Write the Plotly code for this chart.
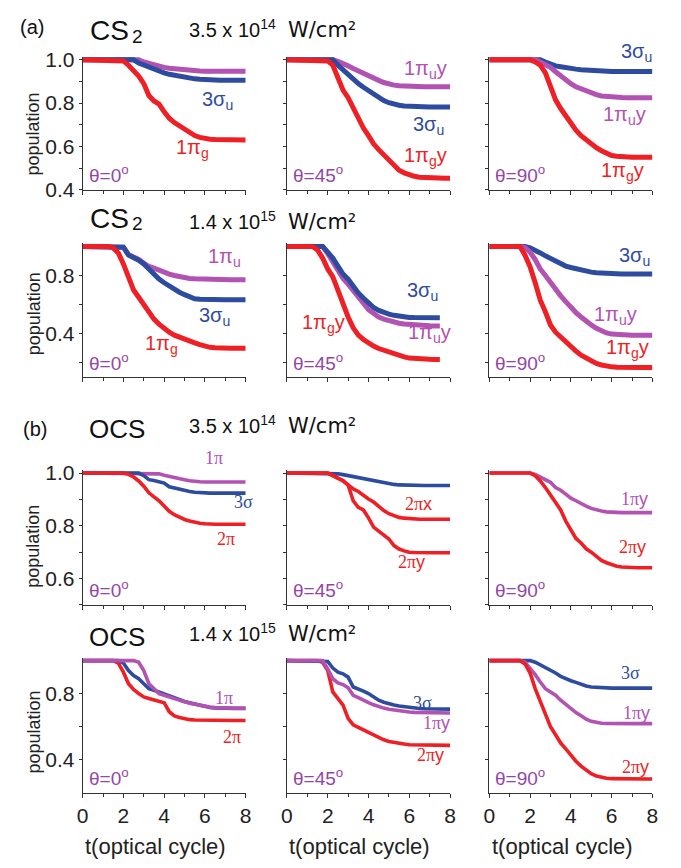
import plotly.graph_objects as go

# ---------------- data ----------------
T = [0, 0.25, 0.5, 0.75, 1, 1.25, 1.5, 1.75, 2, 2.25, 2.5, 2.75, 3, 3.25, 3.5, 3.75, 4,
     4.25, 4.5, 4.75, 5, 5.25, 5.5, 5.75, 6, 6.25, 6.5, 6.75, 7, 7.25, 7.5, 7.75, 8]

# (a) CS2, 3.5e14 W/cm2
cs2_lo_0_pig = [1, 1, 1, 1, 1, 1, 1, 1, 0.995, 0.975, 0.95, 0.925, 0.89, 0.835, 0.81, 0.795, 0.76, 0.73, 0.71, 0.695, 0.675, 0.66, 0.65, 0.642, 0.636, 0.633, 0.632, 0.631, 0.63, 0.63, 0.63, 0.63, 0.63]
cs2_lo_0_sig = [1, 1, 1, 1, 1, 1, 1, 1, 1, 1, 1, 0.985, 0.975, 0.965, 0.955, 0.948, 0.94, 0.933, 0.928, 0.922, 0.918, 0.915, 0.912, 0.91, 0.908, 0.907, 0.907, 0.906, 0.906, 0.906, 0.906, 0.906, 0.906]
cs2_lo_0_piu = [1, 1, 1, 1, 1, 1, 1, 1, 1, 1, 1, 1, 0.99, 0.983, 0.975, 0.97, 0.965, 0.961, 0.958, 0.955, 0.952, 0.95, 0.949, 0.948, 0.947, 0.947, 0.947, 0.947, 0.947, 0.947, 0.947, 0.947, 0.947]

cs2_lo_45_pig = [1, 1, 1, 1, 1, 1, 1, 1, 0.995, 0.975, 0.915, 0.86, 0.825, 0.775, 0.73, 0.685, 0.65, 0.612, 0.585, 0.56, 0.535, 0.508, 0.49, 0.478, 0.468, 0.462, 0.458, 0.456, 0.454, 0.453, 0.453, 0.453, 0.453]
cs2_lo_45_sig = [1, 1, 1, 1, 1, 1, 1, 1, 1, 1, 0.975, 0.952, 0.93, 0.905, 0.89, 0.873, 0.858, 0.842, 0.825, 0.812, 0.802, 0.795, 0.79, 0.787, 0.785, 0.784, 0.783, 0.782, 0.782, 0.782, 0.782, 0.782, 0.782]
cs2_lo_45_piu = [1, 1, 1, 1, 1, 1, 1, 1, 1, 1, 0.993, 0.985, 0.972, 0.96, 0.948, 0.938, 0.925, 0.915, 0.905, 0.895, 0.887, 0.883, 0.88, 0.878, 0.877, 0.876, 0.875, 0.875, 0.875, 0.875, 0.875, 0.875, 0.875]

cs2_lo_90_sig = [1, 1, 1, 1, 1, 1, 1, 1, 1, 1, 1, 0.99, 0.978, 0.972, 0.968, 0.963, 0.96, 0.957, 0.954, 0.952, 0.95, 0.948, 0.947, 0.946, 0.946, 0.946, 0.946, 0.946, 0.946, 0.946, 0.946, 0.946, 0.946]
cs2_lo_90_piu = [1, 1, 1, 1, 1, 1, 1, 1, 1, 1, 0.99, 0.98, 0.965, 0.945, 0.925, 0.905, 0.89, 0.875, 0.865, 0.855, 0.846, 0.839, 0.833, 0.83, 0.828, 0.827, 0.826, 0.825, 0.825, 0.825, 0.825, 0.825, 0.825]
cs2_lo_90_pig = [1, 1, 1, 1, 1, 1, 1, 1, 1, 0.99, 0.975, 0.94, 0.88, 0.815, 0.775, 0.74, 0.70, 0.675, 0.65, 0.63, 0.61, 0.594, 0.58, 0.567, 0.558, 0.555, 0.552, 0.551, 0.55, 0.55, 0.55, 0.55, 0.55]

# (a) CS2, 1.4e15 W/cm2
cs2_hi_0_pig = [1, 1, 1, 1, 1, 1, 0.99, 0.955, 0.88, 0.8, 0.7, 0.65, 0.6, 0.545, 0.5, 0.465, 0.435, 0.41, 0.39, 0.375, 0.36, 0.348, 0.337, 0.325, 0.312, 0.306, 0.303, 0.3, 0.3, 0.3, 0.3, 0.3, 0.3]
cs2_hi_0_sig = [1, 1, 1, 1, 1, 1, 1, 1, 0.995, 0.94, 0.925, 0.905, 0.88, 0.845, 0.8, 0.775, 0.75, 0.725, 0.705, 0.685, 0.668, 0.652, 0.64, 0.636, 0.634, 0.633, 0.633, 0.633, 0.633, 0.633, 0.633, 0.633, 0.633]
cs2_hi_0_piu = [1, 1, 1, 1, 1, 1, 1, 1, 0.995, 0.945, 0.93, 0.91, 0.885, 0.862, 0.85, 0.835, 0.82, 0.81, 0.8, 0.792, 0.785, 0.78, 0.777, 0.775, 0.773, 0.771, 0.771, 0.771, 0.771, 0.771, 0.771, 0.771, 0.771]

cs2_hi_45_pig = [1, 1, 1, 1, 1, 1, 0.975, 0.92, 0.845, 0.79, 0.7, 0.605, 0.515, 0.44, 0.39, 0.36, 0.335, 0.315, 0.298, 0.285, 0.27, 0.258, 0.248, 0.24, 0.232, 0.228, 0.226, 0.225, 0.224, 0.223, 0.223, None, None]
cs2_hi_45_sig = [1, 1, 1, 1, 1, 1, 1, 1, 0.96, 0.92, 0.865, 0.81, 0.775, 0.725, 0.68, 0.645, 0.61, 0.58, 0.56, 0.545, 0.534, 0.526, 0.52, 0.515, 0.512, 0.511, 0.51, 0.51, 0.51, 0.51, 0.51, None, None]
cs2_hi_45_piu = [1, 1, 1, 1, 1, 1, 1, 1, 0.95, 0.89, 0.84, 0.78, 0.74, 0.7, 0.655, 0.61, 0.565, 0.535, 0.515, 0.5, 0.488, 0.479, 0.472, 0.466, 0.462, 0.459, 0.456, 0.455, 0.454, 0.453, 0.453, None, None]

cs2_hi_90_sig = [1, 1, 1, 1, 1, 1, 1, 1, 0.99, 0.975, 0.955, 0.935, 0.915, 0.895, 0.88, 0.865, 0.855, 0.845, 0.836, 0.829, 0.823, 0.819, 0.816, 0.814, 0.812, 0.811, 0.811, 0.811, 0.811, 0.811, 0.811, 0.811, 0.811]
cs2_hi_90_piu = [1, 1, 1, 1, 1, 1, 1, 0.99, 0.96, 0.91, 0.845, 0.8, 0.75, 0.7, 0.66, 0.62, 0.58, 0.545, 0.515, 0.485, 0.46, 0.437, 0.42, 0.405, 0.397, 0.393, 0.391, 0.39, 0.389, 0.389, 0.389, 0.389, 0.389]
cs2_hi_90_pig = [1, 1, 1, 1, 1, 1, 1, 0.94, 0.86, 0.75, 0.63, 0.55, 0.46, 0.41, 0.375, 0.345, 0.31, 0.28, 0.252, 0.23, 0.21, 0.195, 0.185, 0.177, 0.172, 0.17, 0.168, 0.167, 0.167, 0.167, 0.167, 0.167, 0.167]

# (b) OCS, 3.5e14 W/cm2
ocs_lo_0_1pi = [1, 1, 1, 1, 1, 1, 1, 1, 1, 1, 1, 1, 1, 1, 1, 0.997, 0.992, 0.987, 0.982, 0.978, 0.975, 0.971, 0.968, 0.967, 0.966, 0.966, 0.966, 0.966, 0.966, 0.966, 0.966, 0.966, 0.966]
ocs_lo_0_3sig = [1, 1, 1, 1, 1, 1, 1, 1, 1, 1, 1, 1, 0.99, 0.975, 0.972, 0.968, 0.962, 0.948, 0.943, 0.938, 0.934, 0.93, 0.927, 0.925, 0.924, 0.924, 0.924, 0.924, 0.924, 0.924, 0.924, 0.924, 0.924]
ocs_lo_0_2pi = [1, 1, 1, 1, 1, 1, 1, 1, 1, 0.995, 0.985, 0.97, 0.95, 0.925, 0.91, 0.895, 0.875, 0.855, 0.842, 0.832, 0.824, 0.818, 0.813, 0.81, 0.808, 0.806, 0.806, 0.806, 0.806, 0.806, 0.806, 0.806, 0.806]

ocs_lo_45_3sig = [1, 1, 1, 1, 1, 1, 1, 1, 1, 0.999, 0.997, 0.994, 0.99, 0.988, 0.985, 0.981, 0.977, 0.972, 0.968, 0.964, 0.96, 0.957, 0.955, 0.954, 0.953, 0.953, 0.953, 0.953, 0.953, 0.953, 0.953, 0.953, 0.953]
ocs_lo_45_2pix = [1, 1, 1, 1, 1, 1, 1, 1, 1, 0.99, 0.98, 0.97, 0.955, 0.94, 0.93, 0.915, 0.902, 0.89, 0.872, 0.858, 0.846, 0.838, 0.832, 0.829, 0.827, 0.826, 0.825, 0.825, 0.825, 0.825, 0.825, 0.825, 0.825]
ocs_lo_45_2piy = [1, 1, 1, 1, 1, 1, 1, 1, 1, 0.99, 0.98, 0.972, 0.955, 0.895, 0.87, 0.86, 0.83, 0.795, 0.78, 0.765, 0.75, 0.725, 0.712, 0.705, 0.7, 0.699, 0.698, 0.698, 0.698, 0.698, 0.698, 0.698, 0.698]

ocs_lo_90_1piy = [1, 1, 1, 1, 1, 1, 1, 1, 1, 0.995, 0.985, 0.975, 0.965, 0.945, 0.935, 0.92, 0.905, 0.895, 0.884, 0.875, 0.866, 0.86, 0.856, 0.853, 0.851, 0.85, 0.85, 0.85, 0.85, 0.85, 0.85, 0.85, 0.85]
ocs_lo_90_2piy = [1, 1, 1, 1, 1, 1, 1, 1, 1, 0.99, 0.97, 0.945, 0.915, 0.885, 0.86, 0.818, 0.785, 0.752, 0.735, 0.713, 0.7, 0.685, 0.669, 0.66, 0.652, 0.647, 0.644, 0.642, 0.641, 0.641, 0.641, 0.641, 0.641]

# (b) OCS, 1.4e15 W/cm2
ocs_hi_0_2pi = [1, 1, 1, 1, 1, 1, 1, 0.985, 0.93, 0.86, 0.825, 0.8, 0.78, 0.77, 0.76, 0.755, 0.745, 0.69, 0.665, 0.655, 0.648, 0.642, 0.64, 0.639, 0.638, 0.637, 0.637, 0.637, 0.637, 0.637, 0.637, 0.637, 0.637]
ocs_hi_0_3sig = [1, 1, 1, 1, 1, 1, 1, 1, 0.985, 0.94, 0.91, 0.89, 0.86, 0.83, 0.82, 0.808, 0.798, 0.785, 0.772, 0.762, 0.752, 0.745, 0.737, 0.728, 0.72, 0.716, 0.713, 0.711, 0.71, 0.71, 0.71, 0.71, 0.71]
ocs_hi_0_1pi = [1, 1, 1, 1, 1, 1, 1, 1, 1, 1, 1, 0.99, 0.94, 0.86, 0.83, 0.8, 0.79, 0.78, 0.765, 0.758, 0.75, 0.742, 0.735, 0.728, 0.722, 0.718, 0.715, 0.713, 0.712, 0.712, 0.712, 0.712, 0.712]

ocs_hi_45_3sig = [1, 1, 1, 1, 1, 1, 1, 1, 0.995, 0.955, 0.93, 0.92, 0.9, 0.84, 0.83, 0.815, 0.8, 0.78, 0.76, 0.748, 0.738, 0.731, 0.725, 0.72, 0.715, 0.712, 0.71, 0.708, 0.707, 0.706, 0.706, 0.706, 0.706]
ocs_hi_45_1piy = [1, 1, 1, 1, 1, 1, 1, 1, 0.95, 0.89, 0.865, 0.855, 0.835, 0.79, 0.775, 0.757, 0.745, 0.732, 0.72, 0.712, 0.705, 0.7, 0.695, 0.691, 0.688, 0.686, 0.685, 0.684, 0.684, 0.682, 0.682, 0.682, 0.682]
ocs_hi_45_2piy = [1, 1, 1, 1, 1, 1, 1, 0.99, 0.94, 0.81, 0.77, 0.73, 0.65, 0.61, 0.595, 0.58, 0.565, 0.545, 0.53, 0.52, 0.51, 0.503, 0.498, 0.494, 0.49, 0.489, 0.488, 0.487, 0.487, 0.486, 0.486, 0.486, 0.486]

ocs_hi_90_3sig = [1, 1, 1, 1, 1, 1, 1, 1, 1, 0.99, 0.975, 0.955, 0.94, 0.925, 0.905, 0.89, 0.878, 0.868, 0.855, 0.846, 0.84, 0.837, 0.835, 0.834, 0.833, 0.833, 0.833, 0.833, 0.833, 0.833, 0.833, 0.833, 0.833]
ocs_hi_90_1piy = [1, 1, 1, 1, 1, 1, 1, 0.99, 0.955, 0.915, 0.87, 0.83, 0.81, 0.79, 0.76, 0.735, 0.705, 0.685, 0.665, 0.645, 0.632, 0.624, 0.62, 0.619, 0.618, 0.618, 0.618, 0.618, 0.618, 0.618, 0.618, 0.618, 0.618]
ocs_hi_90_2piy = [1, 1, 1, 1, 1, 1, 1, 0.98, 0.925, 0.83, 0.75, 0.67, 0.6, 0.55, 0.5, 0.465, 0.425, 0.39, 0.36, 0.335, 0.314, 0.3, 0.292, 0.287, 0.284, 0.283, 0.282, 0.282, 0.282, 0.282, 0.282, 0.282, 0.282]

X_TICKS = [0, 2, 4, 6, 8]
X_MINOR = [1, 3, 5, 7]
X_TITLE = "t(optical cycle)"
Y_TITLE = "population"
ANGLES = ["θ=0<sup>o</sup>", "θ=45<sup>o</sup>", "θ=90<sup>o</sup>"]

# ---------------- style ----------------
W, H = 681, 868
RED, BLUE, MAG, THETA = "#EE1F25", "#2E4C9F", "#B252B2", "#9446A8"
SANS = "Liberation Sans, Arial, sans-serif"
SERIF = "Liberation Serif, Times New Roman, serif"
COLS = [(78, 244), (286, 452), (492, 658)]

ROWS = [
    dict(top=52, bottom=185, ymin=0.4, tv=[0.4, 0.5, 0.6, 0.7, 0.8, 0.9, 1.0],
         tt=["0.4", "", "0.6", "", "0.8", "", "1.0"], lw=5),
    dict(top=243, bottom=377, ymin=0.1, tv=[0.2, 0.4, 0.6, 0.8],
         tt=["", "0.4", "", "0.8"], lw=5),
    dict(top=475, bottom=610, ymin=0.5, tv=[0.5, 0.6, 0.7, 0.8, 0.9, 1.0],
         tt=["", "0.6", "", "0.8", "", "1.0"], lw=3.6),
    dict(top=667, bottom=802, ymin=0.2, tv=[0.4, 0.6, 0.8],
         tt=["0.4", "", "0.8"], lw=3.6),
]

SERIES = [
    [[(cs2_lo_0_piu, MAG), (cs2_lo_0_sig, BLUE), (cs2_lo_0_pig, RED)],
     [(cs2_lo_45_piu, MAG), (cs2_lo_45_sig, BLUE), (cs2_lo_45_pig, RED)],
     [(cs2_lo_90_sig, BLUE), (cs2_lo_90_piu, MAG), (cs2_lo_90_pig, RED)]],
    [[(cs2_hi_0_piu, MAG), (cs2_hi_0_sig, BLUE), (cs2_hi_0_pig, RED)],
     [(cs2_hi_45_piu, MAG), (cs2_hi_45_sig, BLUE), (cs2_hi_45_pig, RED)],
     [(cs2_hi_90_sig, BLUE), (cs2_hi_90_piu, MAG), (cs2_hi_90_pig, RED)]],
    [[(ocs_lo_0_1pi, MAG), (ocs_lo_0_3sig, BLUE), (ocs_lo_0_2pi, RED)],
     [(ocs_lo_45_3sig, BLUE), (ocs_lo_45_2pix, RED), (ocs_lo_45_2piy, RED)],
     [(ocs_lo_90_1piy, MAG), (ocs_lo_90_2piy, RED)]],
    [[(ocs_hi_0_2pi, RED), (ocs_hi_0_3sig, BLUE), (ocs_hi_0_1pi, MAG)],
     [(ocs_hi_45_2piy, RED), (ocs_hi_45_3sig, BLUE), (ocs_hi_45_1piy, MAG)],
     [(ocs_hi_90_3sig, BLUE), (ocs_hi_90_1piy, MAG), (ocs_hi_90_2piy, RED)]],
]

for row in SERIES:
    for panel in row:
        for ys, _ in panel:
            assert len(ys) == len(T), len(ys)

fig = go.Figure()
layout = dict(width=W, height=H, margin=dict(l=0, r=0, t=0, b=0),
              paper_bgcolor="white", plot_bgcolor="white", showlegend=False,
              font=dict(family=SANS, color="#222222"))
PAD = 3
k = 0
for r, rd in enumerate(ROWS):
    ppu = (rd["bottom"] - rd["top"]) / (1.0 - rd["ymin"])
    ymax = 1.0 + PAD / ppu
    ydom = [1 - rd["bottom"] / H, 1 - (rd["top"] - PAD) / H]
    for c, (x0, x1) in enumerate(COLS):
        k += 1
        xa = "xaxis" if k == 1 else f"xaxis{k}"
        ya = "yaxis" if k == 1 else f"yaxis{k}"
        xr = "x" if k == 1 else f"x{k}"
        yr = "y" if k == 1 else f"y{k}"
        layout[xa] = dict(domain=[x0 / W, x1 / W], range=[0, 8], anchor=yr,
                          showline=True, linecolor="#333", linewidth=1,
                          showgrid=False, zeroline=False,
                          tickmode="array", tickvals=X_TICKS,
                          ticks="outside", ticklen=4, tickcolor="#333",
                          minor=dict(tickmode="array", tickvals=X_MINOR, ticks="outside",
                                     ticklen=3, tickcolor="#333"),
                          showticklabels=(r == 3),
                          tickfont=dict(size=21, family=SANS, color="#222"))
        layout[ya] = dict(domain=ydom, range=[rd["ymin"], ymax], anchor=xr,
                          showline=True, linecolor="#333", linewidth=1,
                          showgrid=False, zeroline=False,
                          tickmode="array", tickvals=rd["tv"], ticktext=rd["tt"],
                          ticks="outside", ticklen=3, tickcolor="#333",
                          showticklabels=(c == 0),
                          tickfont=dict(size=21, family=SANS, color="#222"))
        for ys, col in SERIES[r][c]:
            fig.add_trace(go.Scatter(x=T, y=ys, mode="lines", xaxis=xr, yaxis=yr,
                                     line=dict(color=col, width=rd["lw"]),
                                     connectgaps=False, hoverinfo="skip"))

anns = []


def ann(px, py, text, size=18, color="#222", family=SANS, xanchor="center", angle=0):
    anns.append(dict(x=px / W, y=1 - py / H, xref="paper", yref="paper", text=text,
                     showarrow=False, xanchor=xanchor, yanchor="middle", textangle=angle,
                     font=dict(size=size, color=color, family=family)))


WCM = "DejaVu Sans, " + SANS
# panel letters and titles
ann(12, 18, "(a)", 20, "#111", xanchor="left")
ann(83, 22, "CS", 28, "#111", xanchor="left")
ann(126, 28, "2", 19, "#111", xanchor="left")
ann(184, 20, "3.5 x 10<sup>14</sup>", 20, "#111", xanchor="left")
ann(285, 22, "W/cm²", 21, "#111", family=WCM, xanchor="left")

ann(83, 214, "CS", 28, "#111", xanchor="left")
ann(126, 220, "2", 19, "#111", xanchor="left")
ann(184, 216, "1.4 x 10<sup>15</sup>", 20, "#111", xanchor="left")
ann(285, 218, "W/cm²", 21, "#111", family=WCM, xanchor="left")

ann(15, 430, "(b)", 20, "#111", xanchor="left")
ann(82, 430, "OCS", 26, "#111", xanchor="left")
ann(184, 425, "3.5 x 10<sup>14</sup>", 20, "#111", xanchor="left")
ann(285, 427, "W/cm²", 21, "#111", family=WCM, xanchor="left")

ann(82, 643, "OCS", 26, "#111", xanchor="left")
ann(184, 638, "1.4 x 10<sup>15</sup>", 20, "#111", xanchor="left")
ann(285, 640, "W/cm²", 21, "#111", family=WCM, xanchor="left")

# axis titles
for py in [128, 312, 550, 740]:
    ann(28, py, Y_TITLE, 18, "#222", angle=-90)
for (x0, x1) in COLS:
    ann((x0 + x1) / 2 - 9, 857, X_TITLE, 22, "#222")

# theta labels
for rd in ROWS:
    for c, (x0, x1) in enumerate(COLS):
        ann(x0 + 4, rd["bottom"] - 16, ANGLES[c], 19, THETA, xanchor="left")

# curve labels, CS2 (sans)
cs = 20
ann(215, 94, "3σ<sub>u</sub>", cs, BLUE)
ann(190, 143, "1π<sub>g</sub>", cs, RED)
ann(427, 62, "1π<sub>u</sub>y", cs, MAG)
ann(430, 119, "3σ<sub>u</sub>", cs, BLUE)
ann(427, 151, "1π<sub>g</sub>y", cs, RED)
ann(642, 45, "3σ<sub>u</sub>", cs, BLUE)
ann(630, 109, "1π<sub>u</sub>y", cs, MAG)
ann(628, 166, "1π<sub>g</sub>y", cs, RED)

ann(222, 254, "1π<sub>u</sub>", cs, MAG)
ann(212, 315, "3σ<sub>u</sub>", cs, BLUE)
ann(158, 343, "1π<sub>g</sub>", cs, RED)
ann(424, 289, "3σ<sub>u</sub>", cs, BLUE)
ann(431, 332, "1π<sub>u</sub>y", cs, MAG)
ann(323, 322, "1π<sub>g</sub>y", cs, RED)
ann(640, 253, "3σ<sub>u</sub>", cs, BLUE)
ann(620, 314, "1π<sub>u</sub>y", cs, MAG)
ann(633, 348, "1π<sub>g</sub>y", cs, RED)

# curve labels, OCS (serif with sans letters)
os_ = 18


def sx(t):
    return f"<span style='font-family:Liberation Sans'>{t}</span>"


ann(212, 460, "1π", os_, MAG, SERIF)
ann(242, 505, "3σ", os_, BLUE, SERIF)
ann(224, 543, "2π", os_, RED, SERIF)
ann(420, 507, "2π" + sx("x"), os_, RED, SERIF)
ann(413, 566, "2π" + sx("y"), os_, RED, SERIF)
ann(640, 502, "1π" + sx("y"), os_, MAG, SERIF)
ann(638, 551, "2π" + sx("y"), os_, RED, SERIF)

ann(222, 705, "1π", os_, MAG, SERIF)
ann(230, 745, "2π", os_, RED, SERIF)
ann(424, 710, "3σ", os_, BLUE, SERIF)
ann(438, 731, "1π" + sx("y"), os_, MAG, SERIF)
ann(432, 764, "2π" + sx("y"), os_, RED, SERIF)
ann(636, 680, "3σ", os_, BLUE, SERIF)
ann(642, 721, "1π" + sx("y"), os_, MAG, SERIF)
ann(641, 776, "2π" + sx("y"), os_, RED, SERIF)

layout["annotations"] = anns
fig.update_layout(**layout)
fig.write_html("out.html")
